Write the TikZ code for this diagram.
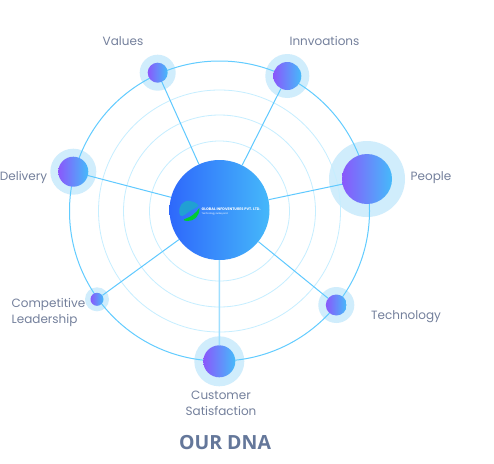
\documentclass[tikz,border=0pt]{standalone}
\usepackage{fontspec}
\setmainfont{Poppins}
\newfontfamily\titlefont{Open Sans}
\definecolor{labelgrey}{HTML}{74809C}
\definecolor{titlegrey}{HTML}{64779A}
\definecolor{halocol}{HTML}{D0EDFC}
\definecolor{ringcol}{HTML}{C6EEFF}
\definecolor{orbitcol}{HTML}{62CCFF}
\definecolor{spokecol}{HTML}{5FC9FF}
\definecolor{dotleft}{HTML}{8A58FB}
\definecolor{dotright}{HTML}{45BAFA}
\definecolor{hubleft}{HTML}{2E68FB}
\definecolor{hubright}{HTML}{45B8FA}
\begin{document}
\begin{tikzpicture}[x=1pt,y=-1pt,
  % rings and spokes
  ring/.style={draw=ringcol, line width=0.8pt},
  orbit/.style={draw=orbitcol, line width=1pt},
  spoke/.style={draw=spokecol, line width=1pt},
  % circles: halo behind, gradient dot in front
  halo/.style={circle, fill=halocol, inner sep=0pt},
  dot/.style={circle, inner sep=0pt, left color=dotleft, right color=dotright},
  hub/.style={circle, inner sep=0pt, minimum size=100pt, left color=hubleft, right color=hubright},
  lab/.style={font=\fontsize{12}{16}\selectfont, text=labelgrey, align=center, inner sep=0pt},
  ]
  \useasboundingbox (0,0) rectangle (494,463);
  \fill[white] (0,0) rectangle (494,463);
  \coordinate (mid) at (219.5,211);
  % ---- halos ----
  \node[halo, minimum size=36pt] (hvalues) at (157.7,72.7) {};
  \node[halo, minimum size=44pt] (hinnov)  at (287.3,76) {};
  \node[halo, minimum size=76pt] (hpeople) at (367,179) {};
  \node[halo, minimum size=36pt] (htech)   at (336.3,305) {};
  \node[halo, minimum size=50pt] (hcust)   at (219.3,361.3) {};
  \node[halo, minimum size=24pt] (hcomp)   at (97,299.3) {};
  \node[halo, minimum size=46pt] (hdeliv)  at (73.3,171.7) {};
  % ---- rings ----
  \draw[ring] (mid) circle[radius=70];
  \draw[ring] (mid) circle[radius=96];
  \draw[ring] (mid) circle[radius=121];
  \draw[orbit] (mid) circle[radius=150];
  % ---- dots ----
  \node[dot, minimum size=20pt] (values) at (hvalues) {};
  \node[dot, minimum size=28pt] (innov)  at (hinnov) {};
  \node[dot, minimum size=50pt] (people) at (hpeople) {};
  \node[dot, minimum size=21pt] (tech)   at (htech) {};
  \node[dot, minimum size=32pt] (cust)   at (hcust) {};
  \node[dot, minimum size=13pt] (comp)   at (hcomp) {};
  \node[dot, minimum size=30pt] (deliv)  at (hdeliv) {};
  % ---- centre and spokes ----
  \node[hub] (centre) at (219.5,210) {};
  \draw[spoke] (centre) -- (values);
  \draw[spoke] (centre) -- (innov);
  \draw[spoke] (centre) -- (people);
  \draw[spoke] (centre) -- (tech);
  \draw[spoke, draw=spokecol!60, line width=1.5pt] (centre) -- (cust);
  \draw[spoke] (centre) -- (comp);
  \draw[spoke] (centre) -- (deliv);
  % ---- logo ----
  \fill[cyan!70!teal] (190,201) .. controls (182,200) and (178.5,207) .. (179.3,213)
    .. controls (180,218) and (184,216) .. (188,212.5) .. controls (192,209) and (197,208) .. (198.5,205.5)
    .. controls (196,202.5) and (193,201) .. (190,201) -- cycle;
  \fill[green!60!teal] (199.3,208) .. controls (200,216) and (194,221.5) .. (187,221)
    .. controls (183,220.5) and (182.5,219.5) .. (186,218.5) .. controls (191,217) and (196,213) .. (199.3,208) -- cycle;
  \node[font=\fontsize{3.6}{5}\selectfont\bfseries, text=white, anchor=west, inner sep=0pt] (logoname) at (201.5,209) {GLOBAL INFOVENTURES PVT. LTD.};
  \node[font=\fontsize{2.4}{3}\selectfont, text=white, anchor=west, inner sep=0pt] (logotag) at (201.5,213.5) {Technology \& Beyond};
  % ---- labels ----
  \node[lab] (lvalues) at (123,41) {Values};
  \node[lab] (linnov)  at (324.5,41) {Innvoations};
  \node[lab] (lpeople) at (431,178) {People};
  \node[lab] (ltech)   at (406,317) {Technology};
  \node[lab] (lcust)   at (221,403) {Customer\\Satisfaction};
  \node[lab, align=left] (lcomp) at (48.5,312) {Competitive\\Leadership};
  \node[lab] (ldeliv)  at (23.5,177) {Delivery};
  \node[font=\titlefont\fontsize{19.5}{22}\selectfont\bfseries, text=titlegrey, inner sep=0pt] (title) at (225,442.5) {OUR DNA};
\end{tikzpicture}
\end{document}
